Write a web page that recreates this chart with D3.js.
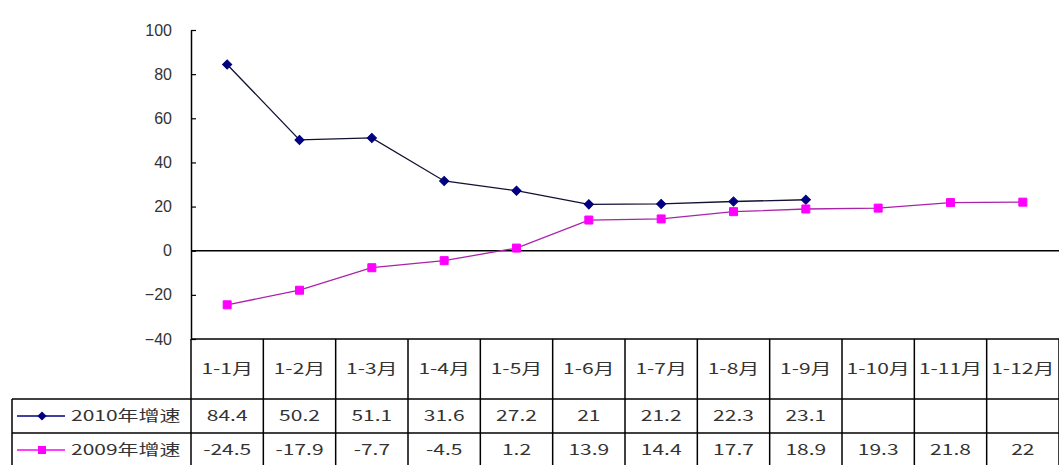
<!DOCTYPE html>
<html>
<head>
<meta charset="utf-8">
<script src="https://cdn.jsdelivr.net/npm/d3@7"></script>
<style>
  body { margin: 0; background: #fff; }
  .axis text { font-family: "Liberation Sans", Arial, sans-serif; font-size: 16px; fill: #333; }
  .cell { font-family: "Noto Sans CJK SC", sans-serif; font-size: 15px; fill: #333; }
</style>
</head>
<body>
<div id="chart"></div>
<script>
// chart data
const categories = ['1-1月', '1-2月', '1-3月', '1-4月', '1-5月', '1-6月',
  '1-7月', '1-8月', '1-9月', '1-10月', '1-11月', '1-12月'];
const growth2010 = [84.4, 50.2, 51.1, 31.6, 27.2, 21, 21.2, 22.3, 23.1, null, null, null];
const growth2009 = [-24.5, -17.9, -7.7, -4.5, 1.2, 13.9, 14.4, 17.7, 18.9, 19.3, 21.8, 22];
const seriesNames = ['2010年增速', '2009年增速'];
const yTicks = [-40, -20, 0, 20, 40, 60, 80, 100];

const config = {
  width: 1059,
  height: 465,
  plotLeft: 191,
  plotRight: 1059,
  plotTop: 30,
  plotBottom: 339,
  headerBottom: 399,
  rowHeight: 34,
  legendLeft: 12,
  textScale: 1.4
};

const series = [
  { name: seriesNames[0], values: growth2010, colour: '#000080', line: '#111133', marker: 'diamond' },
  { name: seriesNames[1], values: growth2009, colour: '#ff00ff', line: '#aa22aa', marker: 'square' }
];

const svg = d3.select('#chart').append('svg')
  .attr('width', config.width)
  .attr('height', config.height);

const x = d3.scaleBand()
  .domain(categories)
  .range([config.plotLeft, config.plotRight]);

const y = d3.scaleLinear()
  .domain([-40, 100])
  .range([config.plotBottom, config.plotTop]);

// y axis, ticks point inward
const yAxis = d3.axisLeft(y)
  .tickValues(yTicks)
  .tickFormat(d => String(d).replace('-', '−'))
  .tickSizeInner(-5)
  .tickSizeOuter(0)
  .tickPadding(19);

const yAxisG = svg.append('g')
  .attr('class', 'axis')
  .attr('transform', `translate(${config.plotLeft},0)`)
  .call(yAxis);
yAxisG.select('.domain').attr('stroke', '#000').attr('stroke-width', 1.5);
yAxisG.selectAll('.tick line').attr('stroke', '#000').attr('stroke-width', 1.2);

// zero line
svg.append('line')
  .attr('x1', config.plotLeft)
  .attr('x2', config.plotRight)
  .attr('y1', y(0))
  .attr('y2', y(0))
  .attr('stroke', '#000')
  .attr('stroke-width', 1.5);

const symbolFor = m => m === 'diamond'
  ? d3.symbol().type(d3.symbolSquare).size(42)
  : d3.symbol().type(d3.symbolSquare).size(64);
const rot = m => m === 'diamond' ? ' rotate(45)' : '';

// series lines + markers
series.forEach(s => {
  const pts = categories.map((c, i) => ({ c, v: s.values[i] })).filter(d => d.v != null);

  svg.append('path')
    .datum(pts)
    .attr('fill', 'none')
    .attr('stroke', s.line)
    .attr('stroke-width', 1.3)
    .attr('d', d3.line()
      .x(d => x(d.c) + x.bandwidth() / 2)
      .y(d => y(d.v)));

  svg.append('g').selectAll('path')
    .data(pts)
    .join('path')
    .attr('d', symbolFor(s.marker))
    .attr('transform', d => `translate(${x(d.c) + x.bandwidth() / 2},${y(d.v)})` + rot(s.marker))
    .attr('fill', s.colour)
    .attr('stroke', s.colour)
    .attr('stroke-width', 1);
});

// data table under the plot
const table = svg.append('g').attr('class', 'table');
const rowTop = i => config.headerBottom + i * config.rowHeight;
const tableBottom = rowTop(2) + 2;

const hLines = [
  [config.plotLeft, config.plotBottom],
  [config.legendLeft, config.headerBottom],
  [config.legendLeft, rowTop(1)],
  [config.legendLeft, tableBottom]
];
hLines.forEach(([x1, yy]) => {
  table.append('line')
    .attr('x1', x1).attr('x2', config.plotRight)
    .attr('y1', yy).attr('y2', yy)
    .attr('stroke', '#000').attr('stroke-width', 1.5);
});

const colEdges = categories.map(c => x(c)).concat([config.plotRight]);
table.selectAll('.col-line')
  .data(colEdges)
  .join('line')
  .attr('class', 'col-line')
  .attr('x1', d => d).attr('x2', d => d)
  .attr('y1', config.plotBottom).attr('y2', tableBottom)
  .attr('stroke', '#000').attr('stroke-width', 1.5);

table.append('line')
  .attr('x1', config.legendLeft).attr('x2', config.legendLeft)
  .attr('y1', config.headerBottom).attr('y2', tableBottom)
  .attr('stroke', '#000').attr('stroke-width', 1.5);

const cellText = (g, tx, ty, text, anchor) => {
  g.append('text')
    .attr('class', 'cell')
    .attr('transform', `translate(${tx},${ty}) scale(${config.textScale},1)`)
    .attr('text-anchor', anchor || 'middle')
    .attr('dy', '0.35em')
    .text(text);
};

categories.forEach(c => {
  cellText(table, x(c) + x.bandwidth() / 2, (config.plotBottom + config.headerBottom) / 2, c);
});

series.forEach((s, r) => {
  const cy = rowTop(r) + config.rowHeight / 2;

  // legend key
  table.append('line')
    .attr('x1', 17).attr('x2', 65)
    .attr('y1', cy).attr('y2', cy)
    .attr('stroke', s.colour).attr('stroke-width', 1.5);
  table.append('path')
    .attr('d', symbolFor(s.marker))
    .attr('transform', `translate(42,${cy})` + rot(s.marker))
    .attr('fill', s.colour);

  cellText(table, 71, cy, s.name, 'start');

  categories.forEach((c, i) => {
    const v = s.values[i];
    if (v == null) return;
    cellText(table, x(c) + x.bandwidth() / 2, cy, String(v));
  });
});
</script>
</body>
</html>
